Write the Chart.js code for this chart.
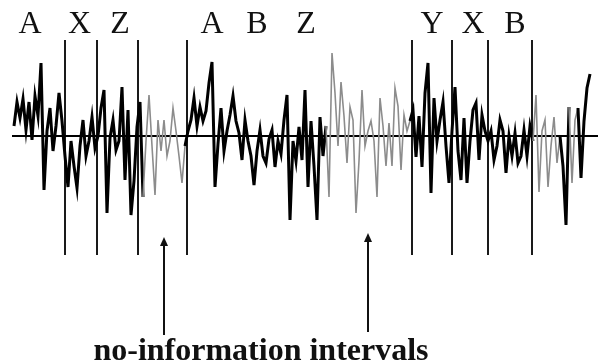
<!DOCTYPE html>
<html>
<head>
<meta charset="utf-8">
<script src="https://cdn.jsdelivr.net/npm/chart.js@4/dist/chart.umd.min.js"></script>
<style>
  html, body { margin: 0; padding: 0; background: #fff; }
  #wrap { width: 600px; height: 363px; position: relative; }
</style>
</head>
<body>
<div id="wrap"><canvas id="c" width="600" height="363"></canvas></div>
<script>
// Signal samples (one value per sample)
const sampleValues = [
  10, 34, 18, 37, 6, 34, -4, 40, 20, 73,
  -54, 5, 28, -15, 10, 43, 15, -20, -51, -5,
  -30, -52, -10, 16, -20, -5, 19, -12, 0, 28,
  46, -77, -2, 16, -14, -5, 49, -44, 26, -79,
  -45, 9, 34, -61, -5, 41, -10, -59, 16, -15,
  16, -20, -5, 28, 5, -20, -47, -10, 5, 16,
  38, 10, 29, 15, 25, 53, 74, -51, -8, 28,
  -15, 5, 21, 40, 15, 3, -24, 16, -5, -20,
  -49, -15, 6, -20, -27, -3, 6, -31, -5, -18,
  16, 41, -84, -5, -25, 9, -24, 46, -51, 15,
  -30, -84, 19, -20, 10, -61, 83, 43, -10, 54,
  20, -27, 29, 16, -77, -25, 46, -10, 5, 15,
  -5, -61, 38, 10, -30, 13, -30, 48, 30, -34,
  21, 5, 15, 26, -21, 20, -31, 43, 73, -57,
  38, -5, 16, 34, -10, -47, 5, 49, -15, -44,
  18, -47, -5, 26, 33, -24, 21, 5, -5, 5,
  -24, -10, 16, 5, -37, 0, -20, 3, -27, -20,
  6, -20, 10, -5, 41, -56, 5, 16, -51, -10,
  19, -27, 0, -30, -89, 29, -47, 16, 28, -42,
  15, 48, 62
];
// "No-information" (grey) stretches, in sample units
const grayIntervals = [[42.5, 57.5], [103.5, 132.5], [172.5, 182.5], [184.5, 188.5], [190.5, 191.5]];
// Vertical event markers, in sample units
const markerPositions = [17, 27.5, 41.4, 57.8, 132.6, 146, 158.1, 172.8];
// Letter labels above the trace
const labelTexts = ['A', 'X', 'Z', 'A', 'B', 'Z', 'Y', 'X', 'B'];
const labelPositions = [5.33, 21.83, 35.33, 66, 81, 97.33, 139.33, 153, 167];
// Arrows point at the two main no-information intervals
const arrowIntervals = [0, 1];
const captionText = 'no-information intervals';

const points = sampleValues.map((v, i) => ({ x: i, y: v }));
const inGray = c => {
  const m = (c.p0.parsed.x + c.p1.parsed.x) / 2;
  return grayIntervals.some(([a, b]) => m > a && m < b);
};

const annotate = {
  id: 'annotate',
  afterDraw(chart) {
    const ctx = chart.ctx;
    const xs = chart.scales.x;
    ctx.save();
    ctx.fillStyle = '#111';
    ctx.font = '32px "Liberation Serif", "DejaVu Serif", serif';
    ctx.textAlign = 'center';
    ctx.textBaseline = 'alphabetic';
    labelTexts.forEach((t, i) => {
      ctx.fillText(t, xs.getPixelForValue(labelPositions[i]), 33);
    });
    // arrows
    ctx.strokeStyle = '#111';
    ctx.fillStyle = '#111';
    ctx.lineWidth = 2;
    arrowIntervals.forEach(k => {
      const [a, b] = grayIntervals[k];
      const px = Math.round(xs.getPixelForValue((a + b) / 2));
      const tip = k === 0 ? 237 : 233;
      const tail = k === 0 ? 335 : 332;
      ctx.beginPath();
      ctx.moveTo(px, tail);
      ctx.lineTo(px, tip + 6);
      ctx.stroke();
      ctx.beginPath();
      ctx.moveTo(px, tip);
      ctx.lineTo(px - 4, tip + 9);
      ctx.lineTo(px + 4, tip + 9);
      ctx.closePath();
      ctx.fill();
    });
    ctx.font = 'bold 32px "Liberation Serif", "DejaVu Serif", serif';
    ctx.fillStyle = '#111';
    ctx.fillText(captionText, 261, 360);
    ctx.restore();
  }
};

new Chart(document.getElementById('c'), {
  type: 'line',
  data: {
    datasets: [{
      data: points,
      borderColor: '#000',
      borderWidth: 3,
      pointRadius: 0,
      tension: 0,
      fill: false,
      segment: {
        borderColor: c => inGray(c) ? '#8c8c8c' : '#000',
        borderWidth: c => inGray(c) ? 1.6 : 3
      }
    }]
  },
  options: {
    responsive: false,
    animation: false,
    devicePixelRatio: 1,
    layout: { padding: { left: 12, right: 2, top: 40, bottom: 108 } },
    plugins: { legend: { display: false }, tooltip: { enabled: false } },
    scales: {
      x: {
        type: 'linear',
        min: -0.667,
        max: 194.667,
        afterBuildTicks: s => { s.ticks = markerPositions.map(v => ({ value: v })); },
        ticks: { display: false },
        grid: { color: '#1a1a1a', lineWidth: 2, drawTicks: false },
        border: { display: false }
      },
      y: {
        min: -119,
        max: 96,
        afterBuildTicks: s => { s.ticks = [{ value: 0 }]; },
        ticks: { display: false },
        grid: { color: '#000', lineWidth: 2, drawTicks: false },
        border: { display: false }
      }
    }
  },
  plugins: [annotate]
});
</script>
</body>
</html>
